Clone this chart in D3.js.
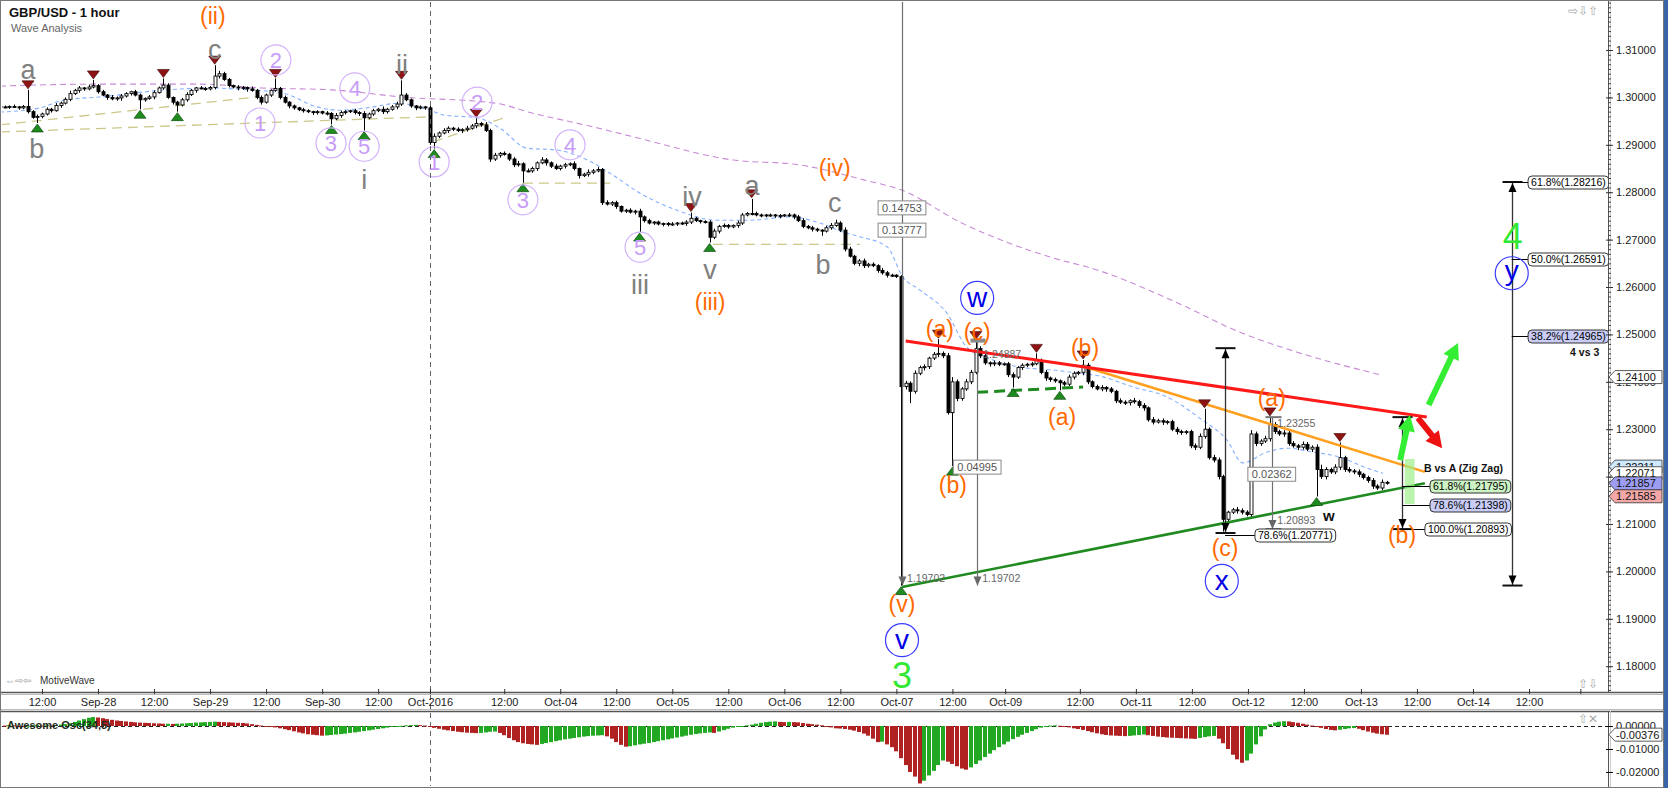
<!DOCTYPE html>
<html><head><meta charset="utf-8">
<script src="https://cdn.jsdelivr.net/npm/d3@7"></script>
<style>body{margin:0;background:#fff;}svg{display:block;font-family:"Liberation Sans",Arial,sans-serif;}</style>
</head><body><svg id="c" width="1668" height="788"></svg>
<script>
// ---------------- DATA ----------------
// hourly bars, index 0 = hour -9 (relative to Sep-27 12:00, weekend compressed); prices in pips above 1.2000
const startHour = -9;
const firstOpen = 981;
const closePips = [
980,979,981,980,978,981,970,958,960,965,
975,972,983,988,996,1008,1015,1020,1018,1022,
1025,1012,1005,1000,997,999,1003,1008,1012,1005,
995,998,1001,1010,1020,1026,1000,990,984,995,
1006,1015,1020,1019,1018,1021,1045,1050,1038,1025,
1022,1020,1021,1018,1015,1000,990,1005,1015,1019,
1000,990,982,978,974,972,970,968,970,967,
966,955,962,968,970,972,968,966,957,965,
972,975,970,975,980,986,1005,995,982,978,
980,978,905,918,925,930,935,933,930,932,
935,940,945,942,930,870,878,882,880,870,
858,860,845,845,850,862,868,862,855,850,
855,858,860,850,835,838,842,845,848,778,
775,778,770,760,762,758,760,748,740,735,
737,733,734,732,733,735,734,737,745,740,
738,737,705,718,728,730,727,730,735,752,
755,755,752,752,751,752,750,751,752,752,
748,740,728,725,722,720,718,725,730,735,
720,680,665,650,655,645,648,645,635,630,
625,625,622,390,397,380,418,430,432,450,
458,460,455,335,400,365,385,400,420,470,
455,440,438,440,437,438,415,410,430,435,
437,438,445,420,408,405,402,398,395,410,
418,420,435,400,390,385,388,385,380,360,
357,356,360,358,350,345,320,315,318,315,
316,300,295,293,295,265,262,285,300,240,
235,200,110,125,130,128,125,120,290,270,
275,280,310,295,290,292,270,265,262,268,
258,262,215,200,215,210,220,240,215,212,
210,205,198,192,180,176,188,186];
const wickUp = [
2,3,2,4,2,3,35,3,4,3, 4,3,5,3,4,6,3,4,2,5, 12,3,4,2,5,3,4,3,2,4, 3,2,4,5,3,14,4,2,3,4,
5,3,2,4,3,3,23,6,4,3, 2,4,3,2,5,3,4,3,2,21, 3,4,2,3,2,4,3,2,3,2, 4,3,5,4,3,2,4,3,5,3,
4,3,6,3,4,5,31,4,3,2, 3,2,4,6,3,5,4,3,4,3, 5,4,11,3,6,4,5,3,4,3, 4,6,3,5,4,3,6,4,3,5,
3,4,3,5,2,3,6,4,5,3, 5,3,4,2,3,4,3,5,3,4, 2,3,2,3,4,2,3,4,12,3, 2,3,4,5,3,4,3,2,5,4,
3,31,4,3,2,3,2,3,2,4, 3,4,5,3,4,3,2,4,5,7, 4,6,5,3,4,5,3,4,3,5, 4,3,2,3,5,4,6,4,5,3,
5,30,4,6,10,5,4,6,5,17, 5,4,3,5,4,3,4,5,3,4, 3,4,15,4,5,3,4,3,4,5, 4,3,11,5,3,4,5,3,4,3,
5,4,3,6,4,5,3,6,4,5, 3,4,5,4,3,4,5,6,43,4, 6,5,4,3,4,6,5,4,8,5, 4,6,16,5,4,6,7,5,4,6,
5,4,6,10,5,4,6,32,4,5, 4,5,3,4,5,4,6,3];
const wickDn = [
3,2,3,2,4,3,4,3,12,4, 3,4,2,5,3,4,3,5,4,3, 3,4,2,5,3,4,6,3,4,3, 20,4,3,5,2,4,3,5,14,3,
4,3,5,2,4,3,4,5,3,4, 3,5,4,6,3,4,5,3,4,3, 4,3,5,4,3,4,3,5,4,3, 4,12,3,5,4,3,4,5,27,3,
4,3,5,4,3,5,4,3,4,5, 3,4,5,13,4,3,5,4,3,5, 4,3,5,4,3,6,4,5,3,4, 5,4,25,3,4,5,3,6,4,3,
4,5,3,4,6,3,5,4,3,5, 3,4,5,3,4,3,5,32,4,3, 4,3,5,4,3,4,3,5,4,3, 4,3,11,4,5,3,4,3,5,4,
3,4,3,5,4,3,4,5,3,4, 5,3,4,3,5,4,10,3,4,3, 4,5,3,4,6,5,4,3,5,4, 5,4,3,420,6,25,5,4,6,5,
4,6,5,4,113,6,5,4,5,4, 5,4,6,5,4,3,5,22,4,5, 4,5,3,4,6,5,4,16,5,4, 5,4,6,5,4,3,5,6,4,5,
4,5,6,4,5,6,4,5,3,6, 5,4,6,5,4,5,6,4,5,4, 5,6,26,5,4,6,5,4,5,6, 5,4,6,5,4,6,5,4,6,5,
4,6,57,5,6,4,5,6,5,4, 5,6,4,5,6,4,5,3];
// Awesome Oscillator, units of 0.0001
const aoValues = [
3,2,4,3,1,-2,1,3,4,2, 3,2,4,6,8,12,18,24,30,36, 39,37,34,30,27,24,22,20,18,16, 15,14,13,12,11,10,10,9,10,11,
12,13,15,16,17,18,19,18,17,16, 15,14,13,11,8,5,2,0,-3,-6, -10,-14,-18,-23,-28,-32,-36,-38,-40,-42,
-41,-39,-37,-35,-33,-30,-28,-25,-22,-19, -16,-13,-10,-7,-4,-2,1,3,4,5, 4,2,-3,-8,-12,-16,-19,-22,-25,-27,
-29,-30,-31,-30,-28,-25,-24,-30,-40,-52, -62,-70,-75,-78,-80,-82,-78,-74,-70,-66, -62,-58,-55,-52,-49,-46,-44,-42,-41,-40,
-45,-55,-70,-82,-90,-88,-84,-80,-77,-74, -70,-66,-62,-58,-54,-50,-46,-42,-38,-35, -32,-30,-28,-30,-24,-18,-12,-7,-3,0,
3,6,10,14,17,19,20,18,17,18, 17,16,13,10,8,6,3,-2,-6,-10, -11,-13,-16,-20,-26,-33,-42,-55,-70,-68,
-80,-92,-110,-140,-170,-200,-220,-250,-238,-215, -195,-170,-150,-155,-165,-175,-185,-190,-180,-165,
-150,-135,-120,-105,-92,-80,-68,-57,-47,-38, -30,-22,-14,-7,-3,2,3,1,-3,-6, -10,-13,-17,-22,-27,-32,-36,-39,-41,-42,
-43,-44,-43,-41,-39,-37,-40,-43,-46,-48, -50,-51,-52,-53,-54,-55,-56,-52,-48,-45, -43,-55,-75,-100,-125,-145,-160,-150,-120,-80,
-45,-15,8,15,19,21,20,17,14,10, 6,2,-3,-8,-13,-17,-19,-16,-13,-10, -9,-12,-18,-24,-29,-33,-36,-38];

const timeTickHours  = [0,12,24,36,48,60,72,83.1,99,111,123,135,147,159,171,183,195,206.3,222.3,234.3,246.3,258.3,270.3,282.5,294.5,306.5,318.5,329.5];
const timeTickLabels = ["12:00","Sep-28","12:00","Sep-29","12:00","Sep-30","12:00","Oct-2016","12:00","Oct-04","12:00","Oct-05","12:00","Oct-06","12:00","Oct-07","12:00","Oct-09","12:00","Oct-11","12:00","Oct-12","12:00","Oct-13","12:00","Oct-14","12:00",""];
const priceTicks = [1.18,1.19,1.20,1.21,1.22,1.23,1.24,1.25,1.26,1.27,1.28,1.29,1.30,1.31];
const oscTicks = [0,-0.01,-0.02];

const maSlow = [[-9,1024],[12,1028],[34,1028],[47,1020],[62,1016],[77,1001],[97,988],[105,967],[118,938],[127,916],[148,868],[162,858],[176,826],[184,805],[197,735],[216,663],[226,636],[242,572],[257,503],[269,462],[287,414]];
const maFast = [[-9,969],[-0.4,978],[4.5,994],[12.4,1001],[26.8,1016],[36.6,1020],[40.9,1018],[51.6,1009],[58.9,980],[63.8,973],[69.6,978],[76.7,988],[81,978],[83.1,973],[85.9,963],[93.2,957],[98.1,935],[103.9,893],[110.3,889],[118,862],[122.3,836],[128.1,798],[136,762],[144.6,741],[151.6,741],[160.2,748],[166.6,735],[171.6,716],[175.2,706],[181,685],[184.4,621],[188,594],[193.8,545],[198.1,473],[203.7,446],[209.5,431],[216.5,425],[222.3,418],[226.6,412],[233.7,389],[241,368],[248,323],[253.8,277],[257.2,229],[262.4,252],[266.7,260],[272.2,252],[278,241],[283.8,218],[287.2,207]];
const guideLines = [[[-9,942],[46,1001]],[[-9,927],[83,959]],[[83.7,906],[99.6,959]],[[103,819],[121.7,819]],[[143.7,690],[175.2,690]]];

const highMarks = [-3,11,26,37,50,77,93,139,152,192,200,213,223,249,263,278];
const lowMarks  = [-1,21,29,62,69,84,103,128,143,184,195,208,218,273];

const redLine    = [[185.0,486],[296.6,326]];
const orangeLine = [[223.0,433],[296.2,210]];
const greenLine  = [[184.2,-33],[296.2,186]];
const greenDash  = [[200.3,378],[223,389]];

const grayLabels   = [["a",-3,1060],["b",-1.1,893],["c",37,1102],["ii",77.1,1070],["i",69,828],["iii",128.1,606],["iv",139.2,792],["v",143.1,638],["a",152.1,815],["b",167.3,649],["c",169.8,779]];
const purpleLabels = [["1",46.7,946],["2",50.1,1079],["3",61.9,904],["4",67,1020],["5",69,897],["1",84,864],["2",93.2,990],["3",103,784],["4",113.1,900],["5",128.1,684]];
const orangeLabels = [["(ii)",36.6,1172],["(iii)",143.1,568],["(iv)",169.8,851],["(v)",184.2,-69],["(a)",192.3,513],["(c)",200.3,505],["(b)",195.1,182],["(b)",223.4,471],["(a)",218.5,326],["(a)",263.4,366],["(c)",253.4,49],["(b)",291.3,77]];
const blueLabels   = [["w",200.3,577],["v",184.2,-145],["x",252.7,-20],["y",314.8,629]];
const greenLabels  = [["3",184.2,-219],["4",315,708]];

// measurements: [hour, top pips, bottom pips]
const grayMeasures  = [[184.2,1215,-29.8],[200.3,487,-29.8],[263.4,325.5,89.3]];
const blackMeasures = [[253.4,471,81],[291.3,325.5,89.3],[314.8,821.6,-29.8]];
const grayValueTexts = [["1.19702",185.3,-14],["1.19702",201.4,-14],["1.24887",201.6,457],["1.23255",264.6,313],["1.20893",264.6,108]];
const grayBoxes = [["0.14753",184.2,767],["0.13777",184.2,720],["0.04995",200.3,220],["0.02362",263.4,205]];
// fib boxes: [text, fromHour, boxHour, pips, fill]
const fibBoxes = [
 ["78.6%(1.20771)",253.4,259.8,77.1,"#ffffff"],
 ["61.8%(1.21795)",291.3,297.3,179.5,"#cdf3c4"],
 ["78.6%(1.21398)",291.3,297.3,139.8,"#c8ccf6"],
 ["100.0%(1.20893)",291.3,296.2,89.3,"#ffffff"],
 ["61.8%(1.28216)",314.8,318.3,821.6,"#ffffff"],
 ["50.0%(1.26591)",314.8,318.3,659.1,"#ffffff"],
 ["38.2%(1.24965)",314.8,318.3,496.5,"#c8ccf6"]];
const boldNotes = [["B vs A (Zig Zag)",296.0,218],["4 vs 3",327.3,463],["w",274.4,117]];
const zoneRect = [291.9,294.0,237,142];
const arrows = [[290.9,235,293,330,"#33ee33"],[297,351,303.3,482,"#33ee33"],[294.7,324,299.9,260,"#ee1111"]];
const priceTags = [[1.241,"#ffffff"],[1.22211,"#cfeaff"],[1.22071,"#ffffff"],[1.21857,"#9c9cf2"],[1.21585,"#f3a7a7"]];
const oscTag = -0.00376;

// ---------------- DRAW ----------------
const svg = d3.select("#c");
const P = v => 1.2 + v/10000;
const x = d3.scaleLinear().domain([0,318.5]).range([42,1529]);
const y = d3.scaleLinear().domain([1.17456,1.32013]).range([692,2]);
const yo = d3.scaleLinear().domain([-0.0261,0.0061]).range([786,712]);
const X = h => x(h), Y = p => y(P(p));

const defs = svg.append("defs");
defs.append("clipPath").attr("id","cp").append("rect").attr("x",2).attr("y",2).attr("width",1606).attr("height",690);
defs.append("clipPath").attr("id","co").append("rect").attr("x",2).attr("y",712).attr("width",1606).attr("height",74);

svg.append("rect").attr("width",1668).attr("height",788).attr("fill","#fff");

const pg = svg.append("g").attr("clip-path","url(#cp)");
const line = d3.line().x(d=>X(d[0])).y(d=>Y(d[1]));
const curve = d3.line().x(d=>X(d[0])).y(d=>Y(d[1])).curve(d3.curveMonotoneX);

// dashed vertical (Oct-2016)
svg.append("line").attr("x1",Math.round(X(83.1))+0.5).attr("x2",Math.round(X(83.1))+0.5).attr("y1",2).attr("y2",786)
  .attr("stroke","#666").attr("stroke-dasharray","5,4");

// guide lines and moving averages
guideLines.forEach(g=>pg.append("path").attr("d",line(g)).attr("fill","none").attr("stroke","#cbc88a").attr("stroke-width",1.3).attr("stroke-dasharray","10,6"));
pg.append("path").attr("d",curve(maSlow)).attr("fill","none").attr("stroke","#c88ad6").attr("stroke-width",1.1).attr("stroke-dasharray","6,4");
pg.append("path").attr("d",curve(maFast)).attr("fill","none").attr("stroke","#86b0ff").attr("stroke-width",1.1).attr("stroke-dasharray","4,3");

// candles
const bars = closePips.map((c,i)=>{const o = i?closePips[i-1]:firstOpen; return {h:startHour+i,o,c,hi:Math.max(o,c)+wickUp[i],lo:Math.min(o,c)-wickDn[i]};});
const cx = d=>Math.round(X(d.h))+0.5;
pg.append("g").selectAll("line").data(bars).join("line")
  .attr("x1",cx).attr("x2",cx).attr("y1",d=>Y(d.hi)).attr("y2",d=>Y(d.lo)).attr("stroke","#000").attr("stroke-width",1);
pg.append("g").selectAll("rect").data(bars).join("rect")
  .attr("x",d=>cx(d)-1.5).attr("width",3)
  .attr("y",d=>Y(Math.max(d.o,d.c))).attr("height",d=>Math.max(1,Y(Math.min(d.o,d.c))-Y(Math.max(d.o,d.c))))
  .attr("fill",d=>d.c>d.o?"#fff":"#000").attr("stroke","#000").attr("stroke-width",0.9);

// trend lines
pg.append("path").attr("d",line(greenDash)).attr("stroke","#1f8a1f").attr("stroke-width",3).attr("stroke-dasharray","11,6").attr("fill","none");
pg.append("path").attr("d",line(greenLine)).attr("stroke","#1f8a1f").attr("stroke-width",2.6).attr("fill","none");
pg.append("path").attr("d",line(orangeLine)).attr("stroke","#ffa020").attr("stroke-width",2.6).attr("fill","none");
pg.append("path").attr("d",line(redLine)).attr("stroke","#ff1a1a").attr("stroke-width",3).attr("fill","none");

// swing markers
const byH = new Map(bars.map(b=>[b.h,b]));
pg.append("g").selectAll("path").data(highMarks).join("path")
  .attr("d",h=>{const b=byH.get(h),px=X(h),py=Y(b.hi)-1;return `M${px-6},${py-8}L${px+6},${py-8}L${px},${py}Z`;})
  .attr("fill","#8e1414").attr("stroke","#3a0000").attr("stroke-width",0.6);
pg.append("g").selectAll("path").data(lowMarks).join("path")
  .attr("d",h=>{const b=byH.get(h),px=X(h),py=Y(b.lo)+1;return `M${px-6},${py+8}L${px+6},${py+8}L${px},${py}Z`;})
  .attr("fill","#1f8a1f").attr("stroke","#003a00").attr("stroke-width",0.6);

// measurements
function arrowHead(g,px,py,dir,color){ // dir -1 up, +1 down (tip at py)
  g.append("path").attr("d",`M${px},${py}L${px-4},${py-dir*9}L${px+4},${py-dir*9}Z`).attr("fill",color);
}
grayMeasures.forEach(([h,t,b],k)=>{
  const px=Math.round(X(h))+0.5;
  pg.append("line").attr("x1",px).attr("x2",px).attr("y1",Y(t)).attr("y2",Y(b)).attr("stroke","#6e6e6e").attr("stroke-width",1.2);
  arrowHead(pg,px,Y(b),1,"#666");
  if(k===1) pg.append("rect").attr("x",px-7).attr("y",Y(t)-2).attr("width",15).attr("height",4).attr("fill","#8a8a8a");
  if(k===2){
    pg.append("line").attr("x1",px-7).attr("x2",px+9).attr("y1",Y(t)).attr("y2",Y(t)).attr("stroke","#777").attr("stroke-width",2);
    pg.append("line").attr("x1",px-7).attr("x2",px+9).attr("y1",Y(b)).attr("y2",Y(b)).attr("stroke","#777").attr("stroke-width",2);
  }
});
blackMeasures.forEach(([h,t,b])=>{
  const px=Math.round(X(h))+0.5;
  pg.append("line").attr("x1",px).attr("x2",px).attr("y1",Y(t)).attr("y2",Y(b)).attr("stroke","#333").attr("stroke-width",1.3);
  pg.append("line").attr("x1",px-10).attr("x2",px+10).attr("y1",Y(t)).attr("y2",Y(t)).attr("stroke","#111").attr("stroke-width",2);
  pg.append("line").attr("x1",px-10).attr("x2",px+10).attr("y1",Y(b)).attr("y2",Y(b)).attr("stroke","#111").attr("stroke-width",2);
  arrowHead(pg,px,Y(t)+1,-1,"#000");
  arrowHead(pg,px,Y(b)-1,1,"#000");
});
// zone rect
pg.append("rect").attr("x",X(zoneRect[0])).attr("width",X(zoneRect[1])-X(zoneRect[0]))
  .attr("y",Y(zoneRect[2])).attr("height",Y(zoneRect[3])-Y(zoneRect[2])).attr("fill","#9cf08a").attr("opacity",0.7);

function boxText(g,xp,yp,txt,{anchor="middle",fill="#fff",stroke="#000",color="#000",size=10.5,rx=3,padX=3,h=13}={}){
  const grp=g.append("g");
  const t=grp.append("text").attr("x",xp).attr("y",yp).attr("dy","0.35em").attr("text-anchor",anchor)
    .attr("font-size",size).attr("fill",color).text(txt);
  const bb=t.node().getBBox();
  grp.insert("rect","text").attr("x",bb.x-padX).attr("y",yp-h/2).attr("width",bb.width+2*padX).attr("height",h)
    .attr("rx",rx).attr("fill",fill).attr("stroke",stroke).attr("stroke-width",1);
}
grayValueTexts.forEach(([t,h,p])=>pg.append("text").attr("x",X(h)).attr("y",Y(p)).attr("dy","0.35em")
  .attr("font-size",10.5).attr("fill","#666").text(t));
grayBoxes.forEach(([t,h,p])=>boxText(pg,X(h),Y(p),t,{stroke:"#888",color:"#555",rx:0,size:11,h:14,padX:4}));
fibBoxes.forEach(([t,h0,h1,p,f])=>{
  const yy=Math.round(Y(p))+0.5;
  pg.append("line").attr("x1",X(h0)).attr("x2",X(h1)).attr("y1",yy).attr("y2",yy).attr("stroke","#000");
  boxText(pg,X(h1)+3,yy,t,{anchor:"start",fill:f,stroke:"#333",size:10.5,rx:4});
});
boldNotes.forEach(([t,h,p],k)=>pg.append("text").attr("x",X(h)).attr("y",Y(p)).attr("dy","0.35em")
  .attr("font-size",k===2?15:10.5).attr("font-weight","bold").attr("fill","#111").text(t));

// arrows
arrows.forEach(([h1,p1,h2,p2,col])=>{
  const x1=X(h1),y1=Y(p1),x2=X(h2),y2=Y(p2);
  const dx=x2-x1,dy=y2-y1,L=Math.hypot(dx,dy),ux=dx/L,uy=dy/L,nx=-uy,ny=ux,hl=16,hw=17;
  const bx=x2-ux*hl,by=y2-uy*hl;
  pg.append("line").attr("x1",x1).attr("y1",y1).attr("x2",bx+ux).attr("y2",by+uy).attr("stroke",col).attr("stroke-width",6);
  pg.append("path").attr("d",`M${x2},${y2}L${bx+nx*hw/2},${by+ny*hw/2}L${bx-nx*hw/2},${by-ny*hw/2}Z`).attr("fill",col);
});

// wave labels
const txt=(arr,color,size,extra)=>arr.forEach(([t,h,p])=>{
  const e=pg.append("text").attr("x",X(h)).attr("y",Y(p)).attr("dy","0.36em").attr("text-anchor","middle")
    .attr("font-size",size).attr("fill",color).text(t); if(extra) extra(e);});
txt(grayLabels,"#808080",27);
txt(orangeLabels,"#ff6a00",23);
txt(greenLabels,"#33e833",36);
purpleLabels.forEach(([t,h,p])=>{
  pg.append("circle").attr("cx",X(h)).attr("cy",Y(p)).attr("r",15).attr("fill","none").attr("stroke","#d2b2fb").attr("stroke-width",1.2);
});
txt(purpleLabels,"#c79cf8",22);
blueLabels.forEach(([t,h,p])=>{
  pg.append("circle").attr("cx",X(h)).attr("cy",Y(p)).attr("r",16.5).attr("fill","none").attr("stroke","#3b3bff").attr("stroke-width",1.2);
});
blueLabels.forEach(([t,h,p])=>pg.append("text").attr("x",X(h)).attr("y",Y(p)).attr("dy",t==="y"?"0.25em":"0.33em")
  .attr("text-anchor","middle").attr("font-size",28).attr("fill","#0000e6").text(t));

// ---------------- Oscillator ----------------
const og = svg.append("g").attr("clip-path","url(#co)");
og.append("line").attr("x1",2).attr("x2",1608).attr("y1",Math.round(yo(0))+0.5).attr("y2",Math.round(yo(0))+0.5)
  .attr("stroke","#222").attr("stroke-dasharray","4,3");
og.append("g").selectAll("rect").data(aoValues).join("rect")
  .attr("x",(v,i)=>Math.round(X(startHour+i))-2).attr("width",4)
  .attr("y",v=>Math.min(yo(0),yo(v/10000))).attr("height",v=>Math.max(1,Math.abs(yo(v/10000)-yo(0))))
  .attr("fill",(v,i)=>(i===0||v>=aoValues[i-1])?"#22a822":"#b02222");
svg.append("text").attr("x",7).attr("y",729).attr("font-size",11).attr("font-weight","bold").attr("fill","#1d2d1d").text("Awesome Osc(34,5)");

// ---------------- Frames & axes ----------------
const fr = svg.append("g");
fr.append("line").attr("x1",0).attr("x2",1668).attr("y1",692.5).attr("y2",692.5).attr("stroke","#555").attr("stroke-width",1.5);
fr.append("line").attr("x1",0).attr("x2",1668).attr("y1",694.5).attr("y2",694.5).attr("stroke","#bbb");
fr.append("line").attr("x1",0).attr("x2",1668).attr("y1",709.5).attr("y2",709.5).attr("stroke","#bbb");
fr.append("line").attr("x1",0).attr("x2",1668).attr("y1",711.5).attr("y2",711.5).attr("stroke","#555").attr("stroke-width",1.5);
fr.append("line").attr("x1",1608.5).attr("x2",1608.5).attr("y1",0).attr("y2",692).attr("stroke","#555");
fr.append("line").attr("x1",1610.5).attr("x2",1610.5).attr("y1",0).attr("y2",692).attr("stroke","#ccc");
fr.append("line").attr("x1",1608.5).attr("x2",1608.5).attr("y1",711).attr("y2",788).attr("stroke","#555");
fr.append("line").attr("x1",1610.5).attr("x2",1610.5).attr("y1",711).attr("y2",788).attr("stroke","#ccc");
fr.append("rect").attr("x",0.5).attr("y",0.5).attr("width",1663).attr("height",787).attr("fill","none").attr("stroke","#777");
fr.append("rect").attr("x",1664).attr("y",0).attr("width",4).attr("height",788).attr("fill","#3a64a8");

const xAxis = d3.axisBottom(x).tickValues(timeTickHours).tickFormat((d,i)=>timeTickLabels[i]).tickSize(-5).tickPadding(4);
const gx = svg.append("g").attr("transform","translate(0,694)").call(xAxis);
gx.select(".domain").remove();
gx.selectAll("text").attr("font-size",11).attr("fill","#222").attr("font-family","Liberation Sans, Arial");
gx.selectAll("line").attr("stroke","#333");

const gyMinor = svg.append("g").attr("transform","translate(1608,0)")
  .call(d3.axisRight(y).tickValues(d3.range(1175,1321).map(v=>v/1000)).tickSize(3).tickFormat(""));
gyMinor.select(".domain").remove(); gyMinor.selectAll("line").attr("stroke","#444");
const gy = svg.append("g").attr("transform","translate(1606,0)")
  .call(d3.axisRight(y).tickValues(priceTicks).tickSize(7).tickPadding(3).tickFormat(d=>d.toFixed(5)));
gy.select(".domain").remove();
gy.selectAll("text").attr("font-size",11).attr("fill","#222").attr("font-family","Liberation Sans, Arial");
gy.selectAll("line").attr("stroke","#333");

const go = svg.append("g").attr("transform","translate(1606,0)")
  .call(d3.axisRight(yo).tickValues(oscTicks).tickSize(7).tickPadding(3).tickFormat(d=>d.toFixed(5)));
go.select(".domain").remove();
go.selectAll("text").attr("font-size",11).attr("fill","#222").attr("font-family","Liberation Sans, Arial");

// price tags
function tag(yy,val,fill){
  const g=svg.append("g");
  g.append("path").attr("d",`M1609,${yy}L1615,${yy-6.5}L1662,${yy-6.5}L1662,${yy+6.5}L1615,${yy+6.5}Z`).attr("fill",fill).attr("stroke","#333").attr("stroke-width",0.8);
  g.append("text").attr("x",1616).attr("y",yy).attr("dy","0.36em").attr("font-size",11).attr("fill","#111").text(val);
}
priceTags.forEach(([v,f])=>tag(y(v),v.toFixed(5),f));
tag(yo(oscTag),oscTag.toFixed(5),"#fff");

// titles & misc
svg.append("text").attr("x",9).attr("y",17).attr("font-size",13).attr("font-weight","bold").attr("fill","#111").text("GBP/USD - 1 hour");
svg.append("text").attr("x",11).attr("y",32).attr("font-size",11).attr("fill","#666").text("Wave Analysis");
svg.append("text").attr("x",1568).attr("y",15).attr("font-size",12).attr("fill","#aaa").text("⇨⇩⇧");
svg.append("text").attr("x",1578).attr("y",688).attr("font-size",12).attr("fill","#aaa").text("⇧⇩");
svg.append("text").attr("x",1578).attr("y",723).attr("font-size",12).attr("fill","#aaa").text("⇧✕");
svg.append("text").attr("x",5).attr("y",684).attr("font-size",10).attr("fill","#999").text("⇔⇨⇦");
svg.append("text").attr("x",40).attr("y",684).attr("font-size",10).attr("fill","#333").text("MotiveWave");
</script></body></html>
